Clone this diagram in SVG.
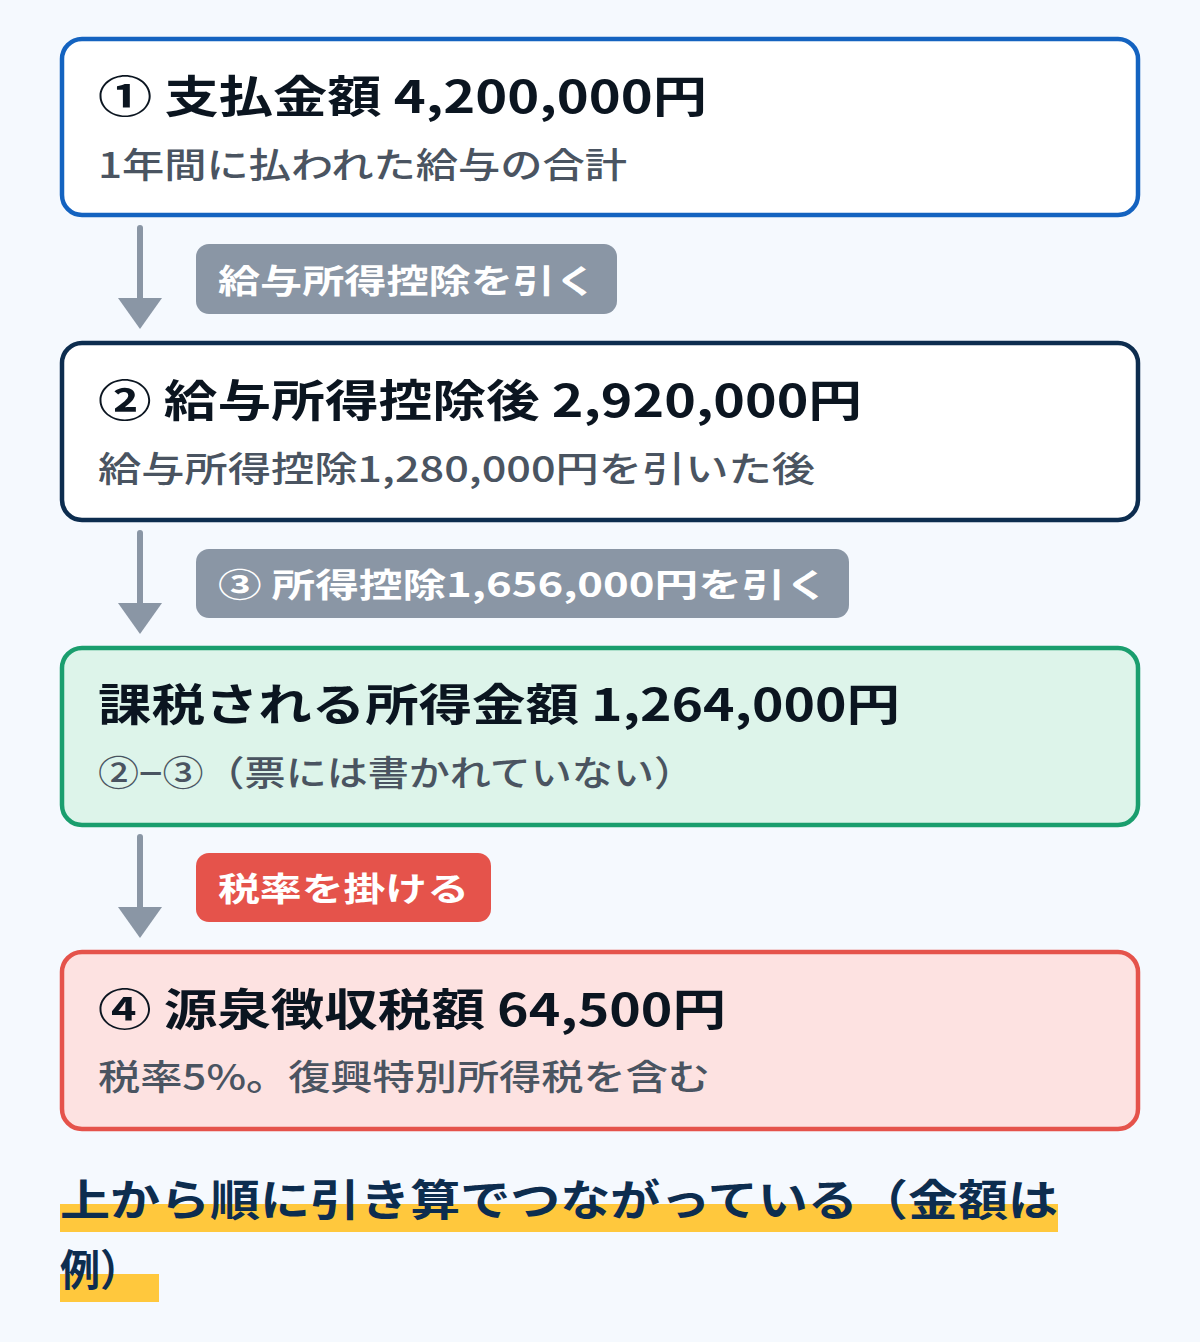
<svg xmlns="http://www.w3.org/2000/svg" width="1200" height="1342" viewBox="0 0 1200 1342">
<style>
text{font-family:"Noto Sans CJK JP","Noto Sans",sans-serif;}
.title{font-size:44px;font-weight:700;fill:#0b1520;}
.sub{font-size:35px;font-weight:500;fill:#4a5461;}
.pill{font-size:33px;font-weight:700;fill:#ffffff;}
.foot{font-size:43px;font-weight:700;fill:#0d2d4f;}
.box{stroke-width:4.5;}
.arr{stroke:#8a96a5;stroke-width:6;stroke-linecap:round;}
.head{fill:#8a96a5;}
</style>
<rect x="0" y="0" width="1200" height="1342" fill="#f5f9fe"/>

<g id="connectors">
<g id="c1">
<line class="arr" x1="140" y1="228" x2="140" y2="302"/>
<polygon class="head" points="118,298 162,298 140,329"/>
<rect x="196" y="244" width="421" height="70" rx="13" fill="#8a96a5"/>
<text class="pill" x="218" y="293" textLength="379" lengthAdjust="spacingAndGlyphs">給与所得控除を引く</text>
</g>
<g id="c2">
<line class="arr" x1="140" y1="533" x2="140" y2="606"/>
<polygon class="head" points="118,603 162,603 140,634"/>
<rect x="196" y="549" width="653" height="69" rx="13" fill="#8a96a5"/>
<text class="pill" x="218" y="597" textLength="611" lengthAdjust="spacingAndGlyphs">③ 所得控除1,656,000円を引く</text>
</g>
<g id="c3">
<line class="arr" x1="140" y1="837" x2="140" y2="911"/>
<polygon class="head" points="118,907 162,907 140,938"/>
<rect x="196" y="853" width="295" height="69" rx="13" fill="#e5534b"/>
<text class="pill" x="218" y="901" textLength="251" lengthAdjust="spacingAndGlyphs">税率を掛ける</text>
</g>
</g>

<g id="node1">
<rect class="box" x="62" y="39" width="1076" height="176" rx="20" fill="#ffffff" stroke="#1463c0"/>
<text class="title" x="98" y="113" textLength="609" lengthAdjust="spacingAndGlyphs">① 支払金額 4,200,000円</text>
<text class="sub" x="98" y="178" textLength="529" lengthAdjust="spacingAndGlyphs">1年間に払われた給与の合計</text>
</g>

<g id="node2">
<rect class="box" x="62" y="343" width="1076" height="177" rx="20" fill="#ffffff" stroke="#0d2d4f"/>
<text class="title" x="98" y="417" textLength="764" lengthAdjust="spacingAndGlyphs">② 給与所得控除後 2,920,000円</text>
<text class="sub" x="98" y="482" textLength="717" lengthAdjust="spacingAndGlyphs">給与所得控除1,280,000円を引いた後</text>
</g>

<g id="node3">
<rect class="box" x="62" y="648" width="1076" height="177" rx="20" fill="#ddf4ea" stroke="#1a9e6e"/>
<text class="title" x="98" y="721" textLength="802" lengthAdjust="spacingAndGlyphs">課税される所得金額 1,264,000円</text>
<text class="sub" x="98" y="786" textLength="597" lengthAdjust="spacingAndGlyphs">②−③（票には書かれていない）</text>
</g>

<g id="node4">
<rect class="box" x="62" y="952" width="1076" height="177" rx="20" fill="#fde2e1" stroke="#e5534b"/>
<text class="title" x="98" y="1026" textLength="628" lengthAdjust="spacingAndGlyphs">④ 源泉徴収税額 64,500円</text>
<text class="sub" x="98" y="1090" textLength="612" lengthAdjust="spacingAndGlyphs">税率5%。復興特別所得税を含む</text>
</g>

<g id="footer">
<rect x="60" y="1204" width="998" height="28" fill="#ffc83d"/>
<rect x="60" y="1274" width="99" height="28" fill="#ffc83d"/>
<text class="foot" x="60" y="1216" textLength="998" lengthAdjust="spacingAndGlyphs">上から順に引き算でつながっている（金額は</text>
<text class="foot" x="60" y="1286" textLength="80" lengthAdjust="spacingAndGlyphs">例）</text>
</g>
</svg>
